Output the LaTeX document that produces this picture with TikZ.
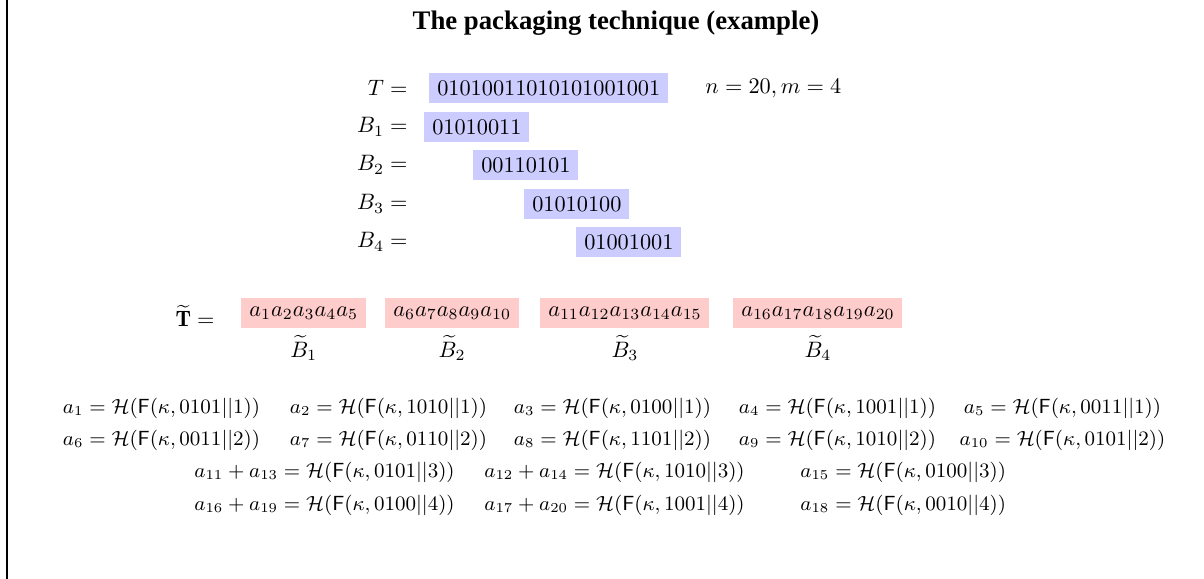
\documentclass[tikz,border=0pt]{standalone}
\usepackage{fontspec}
\usepackage{amsmath}
\newfontfamily\titlefont{Liberation Serif}
\usetikzlibrary{positioning}
\newcommand{\hval}[1]{\scalebox{1.02}{$#1$}}

\begin{document}
\begin{tikzpicture}[x=0.4484pt, y=-0.4484pt,
  blk/.style={fill=blue!20, inner xsep=3.5pt, inner ysep=0pt, minimum height=13.4pt, anchor=west},
  pkg/.style={blk, fill=red!20},
  lbl/.style={anchor=east, inner sep=0pt},
  sub/.style={inner sep=1pt, below=2pt of #1},
  eq/.style={inner sep=0pt, font=\small}]
  \useasboundingbox (0,0) rectangle (1204,579);
  \draw[line width=0.6pt] (7,0) -- (7,579);
  \node[font=\titlefont\bfseries\large] (title) at (616,23) {The packaging technique (example)};
  % the string and its blocks
  \node[lbl] (tl) at (408,88) {$T =$};
  \node[blk] (t) at (429,88) {01010011010101001001};
  \node[anchor=west, inner sep=0pt] (nm) at (705,88) {$n = 20, m = 4$};
  \node[lbl] (b1l) at (408,127) {$B_1 =$};
  \node[blk] (b1) at (424,127) {01010011};
  \node[lbl] (b2l) at (408,165) {$B_2 =$};
  \node[blk] (b2) at (473,165) {00110101};
  \node[lbl] (b3l) at (408,204) {$B_3 =$};
  \node[blk] (b3) at (524,204) {01010100};
  \node[lbl] (b4l) at (408,242) {$B_4 =$};
  \node[blk] (b4) at (576,242) {01001001};
  % packaged blocks
  \node[lbl] (ptl) at (215,316) {$\widetilde{\mathbf{T}} =$};
  \node[pkg] (p1) at (241,313) {$a_1a_2a_3a_4a_5$};
  \node[pkg] (p2) at (385,313) {$a_6a_7a_8a_9a_{10}$};
  \node[pkg] (p3) at (540,313) {$a_{11}a_{12}a_{13}a_{14}a_{15}$};
  \node[pkg] (p4) at (733,313) {$a_{16}a_{17}a_{18}a_{19}a_{20}$};
  \node[sub=p1] (p1l) {$\widetilde{B}_1$};
  \node[sub=p2] (p2l) {$\widetilde{B}_2$};
  \node[sub=p3] (p3l) {$\widetilde{B}_3$};
  \node[sub=p4] (p4l) {$\widetilde{B}_4$};
  % values of the a_i
  \node[eq] (e1) at (161.5,408) {\hval{a_1 = \mathcal{H}(\mathsf{F}(\kappa, 0101||1))}};
  \node[eq] (e2) at (388.5,408) {\hval{a_2 = \mathcal{H}(\mathsf{F}(\kappa, 1010||1))}};
  \node[eq] (e3) at (612.5,408) {\hval{a_3 = \mathcal{H}(\mathsf{F}(\kappa, 0100||1))}};
  \node[eq] (e4) at (837.5,408) {\hval{a_4 = \mathcal{H}(\mathsf{F}(\kappa, 1001||1))}};
  \node[eq] (e5) at (1062.5,408) {\hval{a_5 = \mathcal{H}(\mathsf{F}(\kappa, 0011||1))}};
  \node[eq] (e6) at (161.5,440) {\hval{a_6 = \mathcal{H}(\mathsf{F}(\kappa, 0011||2))}};
  \node[eq] (e7) at (388.5,440) {\hval{a_7 = \mathcal{H}(\mathsf{F}(\kappa, 0110||2))}};
  \node[eq] (e8) at (612.5,440) {\hval{a_8 = \mathcal{H}(\mathsf{F}(\kappa, 1101||2))}};
  \node[eq] (e9) at (837.5,440) {\hval{a_9 = \mathcal{H}(\mathsf{F}(\kappa, 1010||2))}};
  \node[eq] (e10) at (1062.5,440) {\hval{a_{10} = \mathcal{H}(\mathsf{F}(\kappa, 0101||2))}};
  \node[eq, anchor=west] (e11) at (194,472) {\hval{a_{11} + a_{13} = \mathcal{H}(\mathsf{F}(\kappa, 0101||3))}};
  \node[eq, anchor=west] (e12) at (484,472) {\hval{a_{12} + a_{14} = \mathcal{H}(\mathsf{F}(\kappa, 1010||3))}};
  \node[eq, anchor=west] (e15) at (800,472) {\hval{a_{15} = \mathcal{H}(\mathsf{F}(\kappa, 0100||3))}};
  \node[eq, anchor=west] (e16) at (194,505) {\hval{a_{16} + a_{19} = \mathcal{H}(\mathsf{F}(\kappa, 0100||4))}};
  \node[eq, anchor=west] (e17) at (484,505) {\hval{a_{17} + a_{20} = \mathcal{H}(\mathsf{F}(\kappa, 1001||4))}};
  \node[eq, anchor=west] (e18) at (800,505) {\hval{a_{18} = \mathcal{H}(\mathsf{F}(\kappa, 0010||4))}};
\end{tikzpicture}
\end{document}
